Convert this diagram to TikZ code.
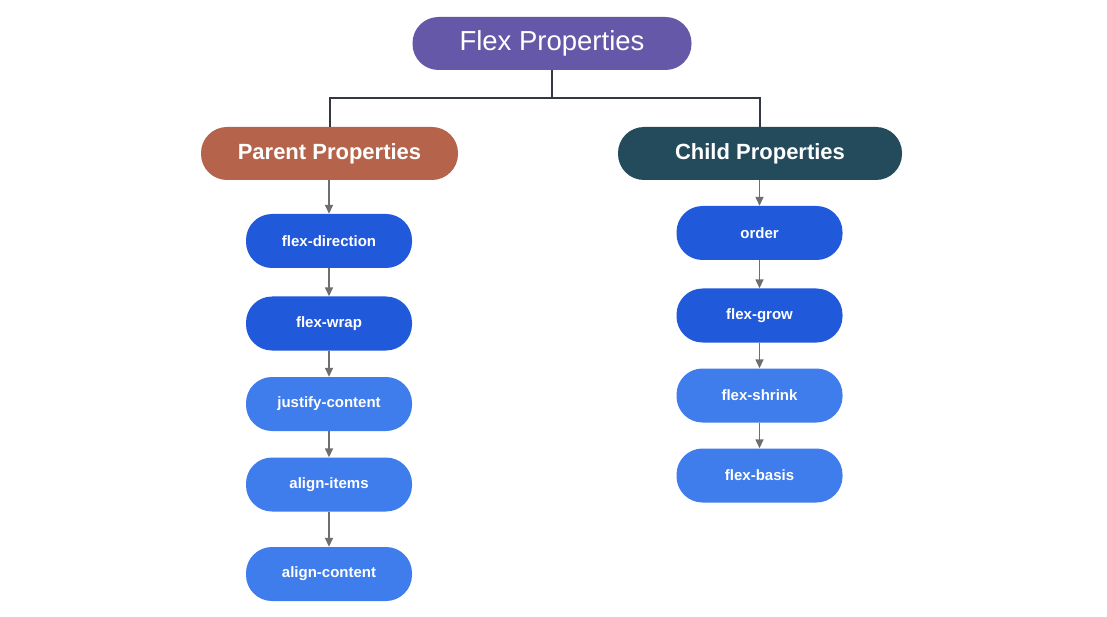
\documentclass[tikz,border=0pt]{standalone}
\usepackage{fontspec}
\setmainfont{Liberation Sans}
\usetikzlibrary{arrows.meta}
\definecolor{topc}{HTML}{6558A8}
\definecolor{parc}{HTML}{B5634A}
\definecolor{chc}{HTML}{234B5C}
\definecolor{dblue}{HTML}{2159DB}
\definecolor{lblue}{HTML}{3F7CEC}
\definecolor{arrc}{HTML}{6E6E6E}
\definecolor{treec}{HTML}{333840}
\tikzset{
  pill/.style={rounded corners=26pt, text=white, inner sep=0pt, align=center},
  head/.style={pill, minimum height=53pt, font=\fontsize{22}{26}\selectfont\bfseries},
  item/.style={pill, minimum width=166pt, minimum height=54pt, font=\fontsize{15}{18}\selectfont\bfseries},
  dark/.style={item, fill=dblue},
  light/.style={item, fill=lblue},
  flow/.style={draw=arrc, line width=1.5pt, -{Triangle[width=8pt,length=9pt]}},
  tree/.style={draw=treec, line width=2pt}
}
\begin{document}
\begin{tikzpicture}[x=1pt,y=-1pt]
\useasboundingbox[fill=white] (0,0) rectangle (1107,617);
\node[pill, fill=topc, minimum width=279pt, minimum height=53pt, font=\fontsize{27.5}{31}\selectfont] (top) at (552,43.5) {Flex Properties};
\node[head, fill=parc, minimum width=257pt] (par) at (329.5,153.5) {Parent Properties};
\node[head, fill=chc, minimum width=284pt] (chi) at (760,153.5) {Child Properties};
\coordinate (jn) at (552,98);
\draw[tree] (top.south) -- (jn) -| (par.north);
\draw[tree] (jn) -| (chi.north);

\node[dark]  (fd) at (329,241) {flex-direction};
\node[dark]  (fw) at (329,323.5) {flex-wrap};
\node[light] (jc) at (329,404) {justify-content};
\node[light] (ai) at (329,484.5) {align-items};
\node[light] (ac) at (329,574) {align-content};

\node[dark]  (or) at (759.5,233) {order};
\node[dark]  (fg) at (759.5,315.5) {flex-grow};
\node[light] (fs) at (759.5,395.5) {flex-shrink};
\node[light] (fb) at (759.5,475.5) {flex-basis};

\draw[flow] (par.south -| fd.north) -- (fd.north);
\draw[flow] (fd) -- (fw);
\draw[flow] (fw) -- (jc);
\draw[flow] (jc) -- (ai);
\draw[flow] (ai) -- (ac);

\draw[flow] (chi.south -| or.north) -- (or.north);
\draw[flow] (or) -- (fg);
\draw[flow] (fg) -- (fs);
\draw[flow] (fs) -- (fb);
\end{tikzpicture}
\end{document}
